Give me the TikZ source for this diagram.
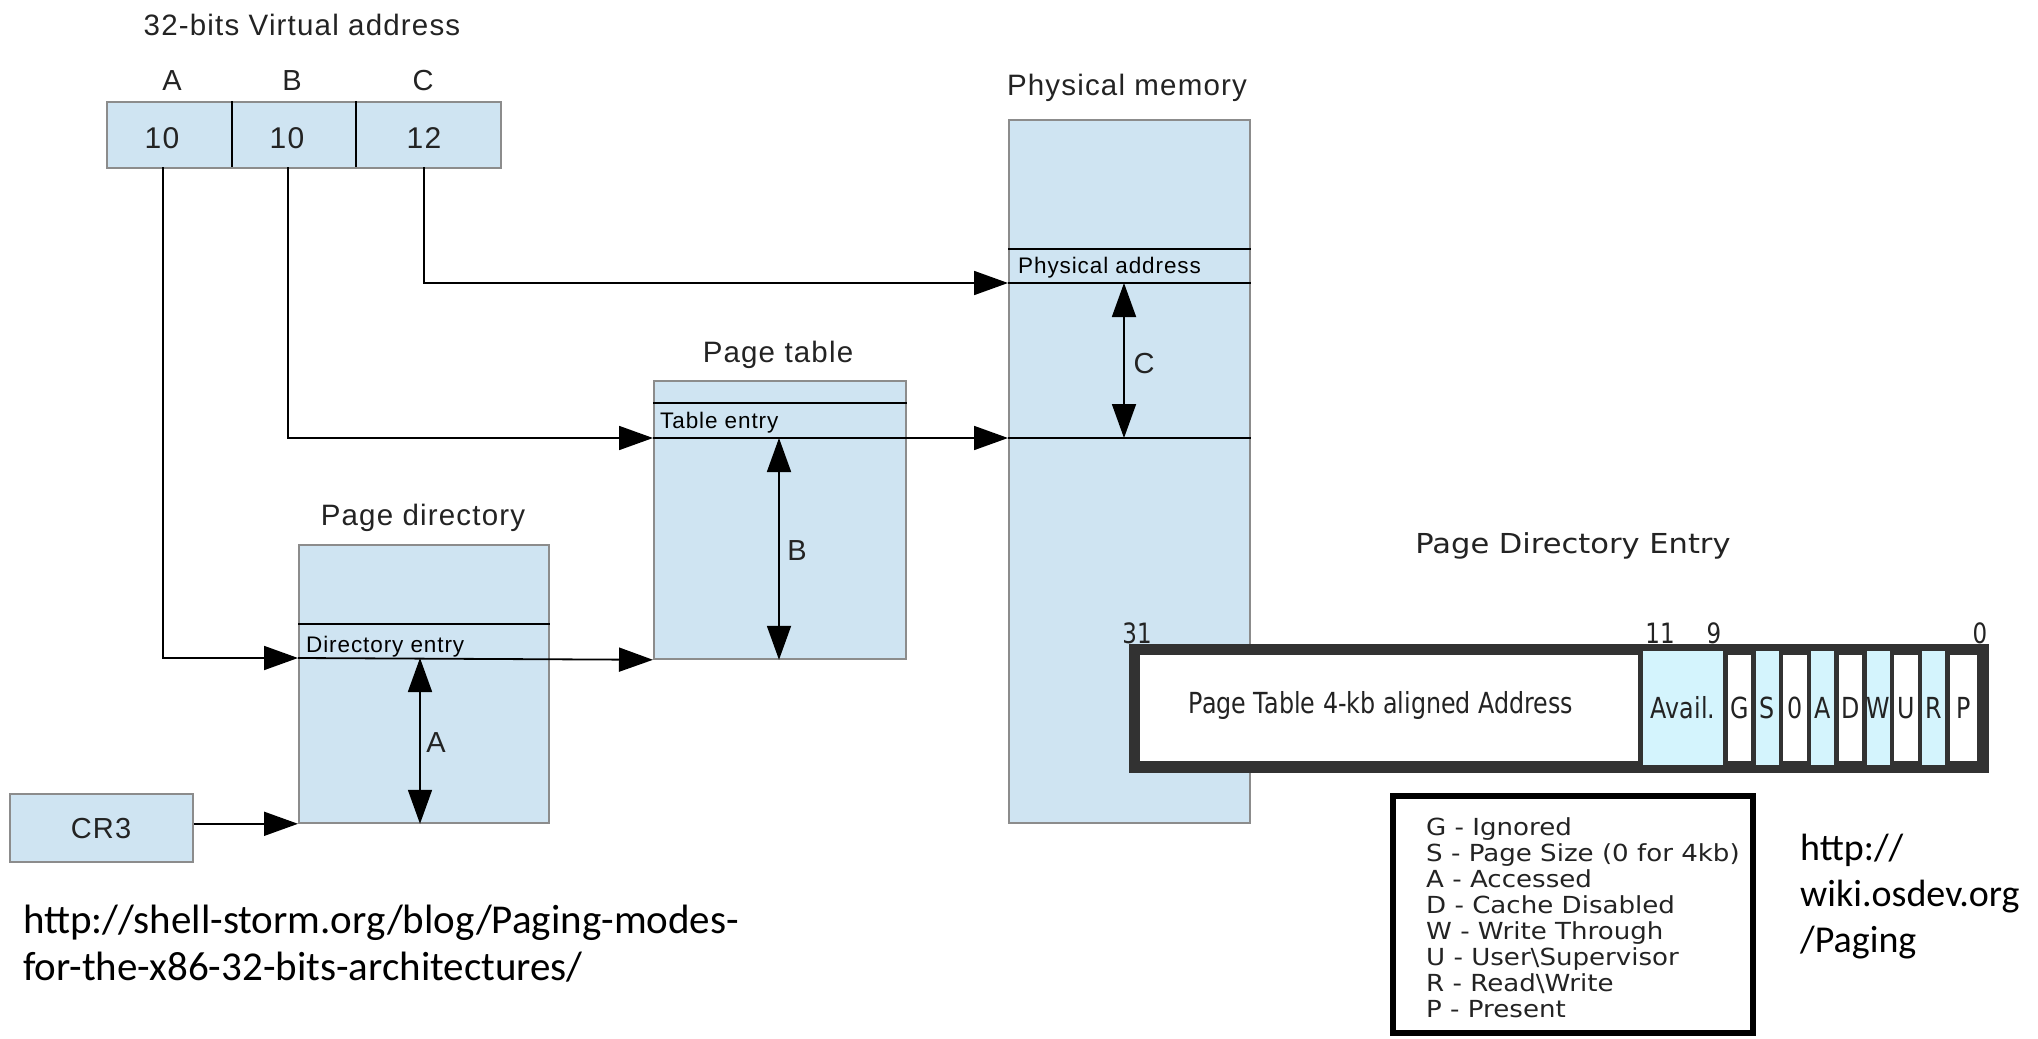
\documentclass[tikz,border=0pt]{standalone}
\usepackage{fontspec}
\setmainfont{Liberation Sans}
\newfontfamily\labelfont[LetterSpace=4]{Liberation Sans}
\newfontfamily\wideverd[FakeStretch=1.11]{DejaVu Sans}
\newfontfamily\narrowverd[FakeStretch=0.82]{DejaVu Sans}
\newfontfamily\calib{Carlito}
\usetikzlibrary{arrows.meta}

\definecolor{boxblue}{RGB}{207,228,242}
\definecolor{boxedge}{RGB}{140,140,140}
\definecolor{bitcyan}{RGB}{212,244,253}
\definecolor{bitedge}{RGB}{50,50,50}
\definecolor{ink}{RGB}{35,35,35}

\tikzset{
  memblock/.style={draw=boxedge, fill=boxblue, line width=1.8pt, inner sep=0pt, anchor=north west},
  entryline/.style={line width=1.8pt, black},
  conn/.style={line width=1.8pt, black, -{Triangle[length=34pt,width=24pt]}},
  spanarrow/.style={line width=1.8pt, black, {Triangle[length=34pt,width=24pt]}-{Triangle[length=34pt,width=24pt]}},
  biglbl/.style={inner sep=0pt, text=ink, anchor=base, font=\labelfont\fontsize{29}{34}\selectfont},
  titlelbl/.style={inner sep=0pt, text=ink, anchor=base, font=\labelfont\fontsize{29.5}{34}\selectfont},
  entrylbl/.style={inner sep=0pt, text=black, anchor=base west, font=\labelfont\fontsize{22.5}{27}\selectfont},
  bitnum/.style={inner sep=0pt, text=ink, anchor=base, font=\narrowverd\fontsize{28}{33}\selectfont},
  bittext/.style={inner sep=0pt, text=ink, anchor=base, font=\narrowverd\fontsize{29}{34}\selectfont},
  legendline/.style={inner sep=0pt, text=ink, anchor=base west, font=\wideverd\fontsize{23.5}{28}\selectfont},
  urlleft/.style={inner sep=0pt, text=black, anchor=base west, font=\calib\fontsize{41}{50}\selectfont},
  urlright/.style={inner sep=0pt, text=black, anchor=base west, font=\calib\fontsize{38}{46}\selectfont},
}

\begin{document}
\begin{tikzpicture}[x=1pt, y=-1pt]
\fill[white] (0,0) rectangle (2038,1039);
\useasboundingbox (0,0) rectangle (2038,1039);

% ---------- virtual address ----------
\node[titlelbl] (vatitle) at (302,35) {32-bits Virtual address};
\node[memblock, minimum width=394pt, minimum height=66pt] (va) at (106,101) {};
\draw[entryline] (232,101) -- (232,167);
\draw[entryline] (356,101) -- (356,167);
\node[biglbl] (fieldA) at (172,90) {A};
\node[biglbl] (fieldB) at (292,90) {B};
\node[biglbl] (fieldC) at (423,90) {C};
\node[biglbl, font=\labelfont\fontsize{30}{34}\selectfont] (bitsA) at (162,148) {10};
\node[biglbl, font=\labelfont\fontsize{30}{34}\selectfont] (bitsB) at (287,148) {10};
\node[biglbl, font=\labelfont\fontsize{30}{34}\selectfont] (bitsC) at (424,148) {12};
\coordinate (outA) at (163,167);
\coordinate (outB) at (288,167);
\coordinate (outC) at (424,167);

% ---------- memory structures ----------
\node[titlelbl] (pdtitle) at (423,525) {Page directory};
\node[memblock, minimum width=250pt, minimum height=278pt] (pd) at (298,544) {};
\node[titlelbl] (pttitle) at (778,362) {Page table};
\node[memblock, minimum width=252pt, minimum height=278pt] (pt) at (653,380) {};
\node[titlelbl] (pmtitle) at (1127,95) {Physical memory};
\node[memblock, minimum width=241pt, minimum height=703pt] (pm) at (1008,119) {};
\node[memblock, minimum width=183pt, minimum height=68pt] (cr3) at (9,793) {};
\node[biglbl] (cr3txt) at (101,838) {CR3};

% entry rows
\coordinate (pdE) at (298,658);
\coordinate (ptE) at (653,438);
\coordinate (pmE) at (1008,283);
\coordinate (pmB) at (1008,438);
\draw[entryline] (pd.west |- 0,624) -- (pd.east |- 0,624);
\draw[entryline] (pt.west |- 0,403) -- (pt.east |- 0,403);
\draw[entryline] (pm.west |- 0,249) -- (pm.east |- 0,249);
\draw[entryline] (pmE) -- (pm.east |- pmE);
\draw[entryline] (pmB) -- (pm.east |- pmB);
\node[entrylbl] (pdentry) at (306,652) {Directory entry};
\node[entrylbl] (ptentry) at (660,428) {Table entry};
\node[entrylbl] (pmentry) at (1018,273) {Physical address};

% connectors
\draw[conn] (outA) |- (pdE);
\draw[conn] (outB) |- (ptE);
\draw[conn] (outC) |- (pmE);
\draw[conn] (pdE) -- (pt.south west);
\draw[conn] (ptE) -- (pmB);
\draw[conn] (cr3.east |- pd.south west) -- (pd.south west);

% offsets
\draw[spanarrow] (420,658) -- (pd.south -| 420,0);
\node[biglbl] (offA) at (436,752) {A};
\draw[spanarrow] (779,438) -- (pt.south -| 779,0);
\node[biglbl] (offB) at (797,560) {B};
\draw[spanarrow] (1124,283) -- (1124,438);
\node[biglbl] (offC) at (1144,373) {C};

% ---------- page directory entry ----------
\node[inner sep=0pt, text=ink, anchor=base, font=\wideverd\fontsize{27.5}{33}\selectfont] (pdetitle) at (1573,553) {Page Directory Entry};
\node[fill=white, draw=bitedge, line width=7.5pt, minimum width=845pt, minimum height=114pt, inner sep=0pt] (pde) at (1558.5,708) {};
\fill[bitcyan] (1640.5,651) rectangle (1725.5,765);
\foreach \k in {1,3,5,7}
  \fill[bitcyan] ({1725.5+27.75*\k},651) rectangle ({1725.5+27.75*(\k+1)},765);
\draw[bitedge, line width=5pt] (1640.5,651) -- (1640.5,765);
\foreach \k in {0,...,8}
  \draw[bitedge, line width=4.5pt] ({1725.5+27.75*\k},651) -- ({1725.5+27.75*\k},765);
\draw[bitedge, line width=7.5pt] (pde.south west) rectangle (pde.north east);

\node[bittext] (addrfield) at (1381,713) {Page Table 4-kb aligned Address};
\node[bittext] (availfield) at (1683,718) {Avail.};
\foreach \b [count=\k from 0] in {G,S,0,A,D,W,U,R}
  \node[bittext] (bit\k) at ({1725.5+27.75*(\k+0.5)},718) {\b};
\node[bittext] (bitP) at (1964,718) {P};

\node[bitnum] (n31) at (1137,643) {31};
\node[bitnum] (n11) at (1660,643) {11};
\node[bitnum] (n9) at (1714,643) {9};
\node[bitnum] (n0) at (1980,643) {0};

% ---------- flag legend ----------
\node[draw=black, line width=6pt, minimum width=360pt, minimum height=237pt, inner sep=0pt] (legend) at (1573,914.5) {};
\node[legendline] (lg0) at (1426,835) {G - Ignored};
\node[legendline] (lg1) at (1426,861.1) {S - Page Size (0 for 4kb)};
\node[legendline] (lg2) at (1426,887.2) {A - Accessed};
\node[legendline] (lg3) at (1426,913.3) {D - Cache Disabled};
\node[legendline] (lg4) at (1426,939.4) {W - Write Through};
\node[legendline] (lg5) at (1426,965.5) {U - User\textbackslash Supervisor};
\node[legendline] (lg6) at (1426,991.6) {R - Read\textbackslash Write};
\node[legendline] (lg7) at (1426,1017.7) {P - Present};

% ---------- sources ----------
\node[urlleft] (src1a) at (23,933) {http://shell-storm.org/blog/Paging-modes-};
\node[urlleft] (src1b) at (23,980) {for-the-x86-32-bits-architectures/};
\node[urlright] (src2a) at (1800,860) {http://};
\node[urlright] (src2b) at (1800,906) {wiki.osdev.org};
\node[urlright] (src2c) at (1800,952) {/Paging};
\end{tikzpicture}
\end{document}
